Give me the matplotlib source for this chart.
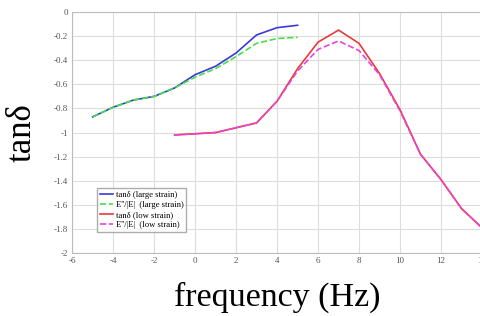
import matplotlib
matplotlib.use("Agg")
import matplotlib.pyplot as plt

freq_large = [-5, -4, -3, -2, -1, 0, 1, 2, 3, 4, 5]
tan_large = [-0.87, -0.79, -0.73, -0.70, -0.63, -0.52, -0.45, -0.34, -0.19, -0.13, -0.11]
eloss_large = [-0.87, -0.79, -0.73, -0.70, -0.63, -0.54, -0.47, -0.37, -0.26, -0.22, -0.21]

freq_low = [-1, 0, 1, 2, 3, 4, 5, 6, 7, 8, 9, 10, 11, 12, 13, 14]
tan_low = [-1.02, -1.01, -1.00, -0.96, -0.92, -0.74, -0.47, -0.25, -0.15, -0.26, -0.51,
           -0.81, -1.18, -1.39, -1.63, -1.79]
eloss_low = [-1.02, -1.01, -1.00, -0.96, -0.92, -0.74, -0.49, -0.31, -0.24, -0.32, -0.52,
             -0.82, -1.18, -1.39, -1.63, -1.79]

plt.rcParams["font.family"] = ["Liberation Serif", "DejaVu Serif"]
plt.rcParams["axes.unicode_minus"] = False

fig = plt.figure(figsize=(4.81, 3.16), dpi=100)
ax = fig.add_axes([0.150, 0.199, 0.852, 0.763])

ax.plot(freq_large, tan_large, color="#3a3ad8", lw=1.2, label="tanδ (large strain)")
ax.plot(freq_large, eloss_large, color="#44e044", lw=1.2, ls="--", label="E''/|E|  (large strain)")
ax.plot(freq_low, tan_low, color="#e83a3a", lw=1.2, label="tanδ (low strain)")
ax.plot(freq_low, eloss_low, color="#e844e0", lw=1.2, ls="--", label="E''/|E|  (low strain)")

ax.set_xlim(-6, 14)
ax.set_ylim(-2, 0)
ax.set_xticks(range(-6, 15, 2))
ax.set_yticks([0, -0.2, -0.4, -0.6, -0.8, -1, -1.2, -1.4, -1.6, -1.8, -2])
ax.set_yticklabels(["0", "-0.2", "-0.4", "-0.6", "-0.8", "-1", "-1.2", "-1.4", "-1.6", "-1.8", "-2"])
ax.tick_params(labelsize=6.5, length=0, colors="#555555", pad=3)
ax.grid(True, color="#dddddd", lw=0.8)
for s in ax.spines.values():
    s.set_color("#bbbbbb")

ax.set_xlabel("frequency (Hz)", fontsize=24.5, labelpad=12)
ax.set_ylabel("tanδ", fontsize=25)
ax.yaxis.set_label_coords(-0.083, 0.5)

ax.legend(loc="lower left", bbox_to_anchor=(0.05, 0.07), fontsize=6.2, frameon=True,
          fancybox=False, edgecolor="#999999", handlelength=1.6, borderpad=0.3,
          labelspacing=0.25, handletextpad=0.3)

fig.savefig("out.png", dpi=100)
